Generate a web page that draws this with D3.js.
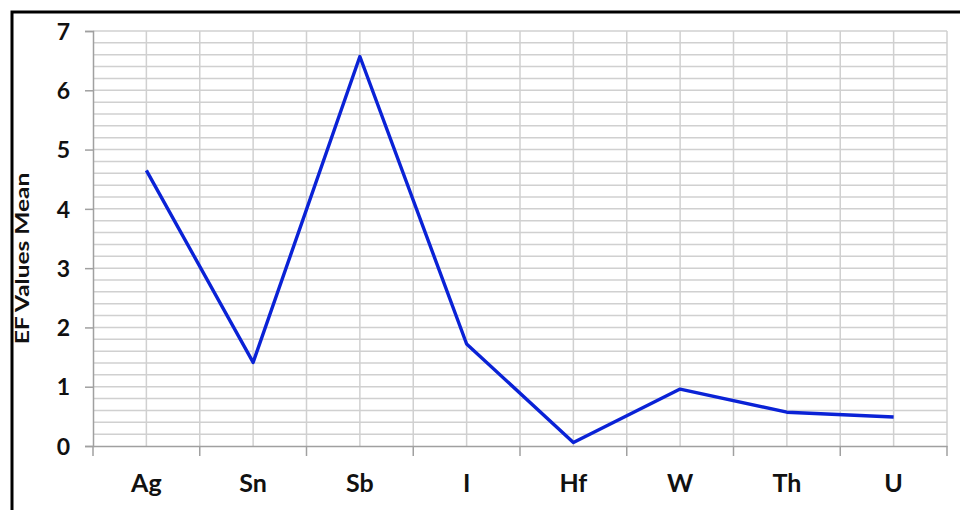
<!DOCTYPE html>
<html>
<head>
<meta charset="utf-8">
<script src="https://cdn.jsdelivr.net/npm/d3@7"></script>
<style>
  body { margin: 0; background: #fff; }
  svg text { font-family: Lato, "Open Sans", sans-serif; font-weight: bold; fill: #111; }
</style>
</head>
<body>
<div id="chart"></div>
<script>
/* DATA */
const elements = ["Ag", "Sn", "Sb", "I", "Hf", "W", "Th", "U"];
const efMean = [4.65, 1.41, 6.57, 1.72, 0.06, 0.96, 0.57, 0.49];
const yTicks = [0, 1, 2, 3, 4, 5, 6, 7];

/* CONSTANTS */
const width = 960, height = 510,
  margin = { top: 31, bottom: 64, left: 93, right: 13 };

const svg = d3.select("#chart").append("svg")
  .attr("width", width)
  .attr("height", height);

// outer frame (top + left edges visible)
svg.append("path")
  .attr("d", `M12,${height} L12,12 L${width},12`)
  .attr("fill", "none")
  .attr("stroke", "#000")
  .attr("stroke-width", 3);

// SCALES
const xBand = d3.scaleBand()
  .domain(elements)
  .range([margin.left, width - margin.right]);

const yScale = d3.scaleLinear()
  .domain([0, 7])
  .range([height - margin.bottom, margin.top]);

const grid = svg.append("g").attr("stroke", "#d0d0d0").attr("stroke-width", 1.5);

// horizontal gridlines every 0.2
d3.range(1, 36).map(i => i * 0.2).forEach(v => {
  grid.append("line")
    .attr("x1", margin.left).attr("x2", width - margin.right)
    .attr("y1", yScale(v)).attr("y2", yScale(v));
});

// vertical gridlines at band edges and centres
const vx = [];
elements.forEach(e => {
  vx.push(xBand(e) + xBand.bandwidth() / 2);
  vx.push(xBand(e) + xBand.bandwidth());
});
vx.forEach(x => {
  grid.append("line")
    .attr("x1", x).attr("x2", x)
    .attr("y1", yScale(0)).attr("y2", yScale(7));
});

// AXES
const yAxis = d3.axisLeft(yScale).tickValues(yTicks).tickFormat(d3.format("d"))
  .tickSize(8).tickPadding(15);
const yG = svg.append("g")
  .attr("transform", `translate(${margin.left},0)`)
  .call(yAxis);
yG.select(".domain").attr("stroke", "#a0a0a0").attr("stroke-width", 1.5);
yG.selectAll(".tick line").attr("stroke", "#a0a0a0").attr("stroke-width", 1.5);
yG.selectAll(".tick text").style("font-size", "23px").attr("dy", "0.36em");

const xAxis = d3.axisBottom(xBand).tickSize(0);
const xG = svg.append("g")
  .attr("transform", `translate(0,${yScale(0)})`)
  .call(xAxis);
xG.select(".domain").attr("stroke", "#a0a0a0").attr("stroke-width", 1.5);
xG.selectAll(".tick text")
  .attr("y", 46).attr("dy", 0)
  .style("font-size", "25px");

// x tick marks at band boundaries
const edges = [margin.left].concat(elements.map(e => xBand(e) + xBand.bandwidth()));
edges.forEach(x => {
  svg.append("line")
    .attr("x1", x).attr("x2", x)
    .attr("y1", yScale(0)).attr("y2", yScale(0) + 10)
    .attr("stroke", "#a0a0a0").attr("stroke-width", 1.5);
});

// axis title
svg.append("text")
  .attr("transform", `translate(29,${(yScale(0) + yScale(7)) / 2 + 20}) rotate(-90) scale(1.36,1)`)
  .attr("text-anchor", "middle")
  .style("font-size", "18px")
  .text("EF Values Mean");

// LINE
const line = d3.line()
  .x((d, i) => xBand(elements[i]) + xBand.bandwidth() / 2)
  .y(d => yScale(d));

svg.append("path")
  .datum(efMean)
  .attr("d", line)
  .attr("fill", "none")
  .attr("stroke", "#0a22d6")
  .attr("stroke-width", 3.4)
  .attr("stroke-linejoin", "round");
</script>
</body>
</html>
